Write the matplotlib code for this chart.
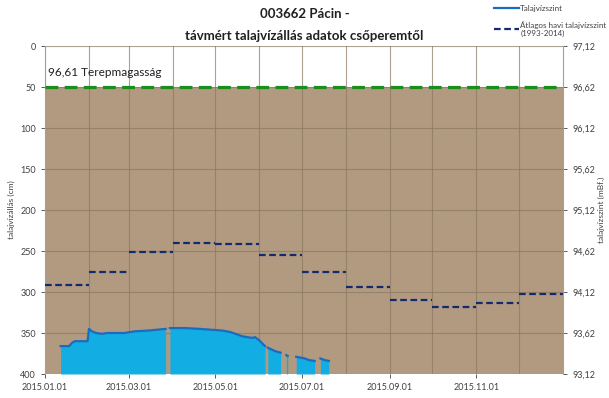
import matplotlib
matplotlib.use("Agg")
import matplotlib.pyplot as plt
import matplotlib.dates as mdates
from matplotlib.lines import Line2D
import numpy as np
import datetime as dt

plt.rcParams['font.family'] = ['Lato', 'DejaVu Sans']

# talajvizallas (cm) - meresi szakaszok, szakaszok kozott nincs adat
seg_dates = [
    ["01-12", "01-18", "01-20", "01-22", "01-31", "02-01", "02-03", "02-06", "02-10",
     "02-14", "02-20", "02-26", "03-05", "03-15", "03-27"],
    ["03-30", "04-10", "04-20", "04-28", "05-06", "05-12", "05-20", "05-27", "05-29",
     "06-01", "06-05"],
    ["06-07", "06-12", "06-16"],
    ["06-20", "06-21"],
    ["06-27", "07-03", "07-06", "07-10"],
    ["07-14", "07-17", "07-20"],
]
seg_vals = [
    [366, 366, 362, 360, 360, 345, 348, 350, 351, 350, 350, 350, 348, 347, 345],
    [344, 344, 345, 346, 347, 349, 354, 356, 355, 359, 366],
    [368, 372, 374],
    [377, 378],
    [379, 381, 383, 384],
    [381, 383, 384],
]

# atlagos havi talajvizszint (1993-2014), cm
honap_atlag = [291, 275, 251, 240, 241, 255, 276, 294, 310, 318, 313, 303]

x_cimkek = ["2015.01.01", "2015.03.01", "2015.05.01", "2015.07.01", "2015.09.01", "2015.11.01"]

terep = 50
terep_szoveg = "96,61 Terepmagasság"
ref_szint = 97.12

def d(s):
    return dt.datetime.strptime("2015-" + s, "%Y-%m-%d")

fig = plt.figure(figsize=(6.09, 3.98), dpi=100)
ax = fig.add_axes([0.0739, 0.0603, 0.8506, 0.8241])

x0 = dt.datetime(2015, 1, 1)
x1 = dt.datetime(2016, 1, 1)
ax.set_xlim(x0, x1)
ax.set_ylim(400, 0)

# barna talaj hatter
ax.axhspan(terep, 400, color='#b19a80', zorder=0, lw=0)

# grid
ax.set_xticks([dt.datetime.strptime(c, "%Y.%m.%d") for c in x_cimkek])
ax.set_xticklabels(x_cimkek)
ax.set_xticks([dt.datetime(2015, m, 1) for m in range(2, 13, 2)], minor=True)
ax.set_yticks(np.arange(0, 401, 50))
ax.grid(True, which='both', axis='x', color='#8b7862', lw=0.8, alpha=0.7, zorder=1)
ax.grid(True, which='major', axis='y', color='#8b7862', lw=0.8, alpha=0.7, zorder=1)

# talajvizallas
for ds, vs in zip(seg_dates, seg_vals):
    xs = [d(s) for s in ds]
    ax.fill_between(xs, vs, 400, color='#12ade2', lw=0, zorder=2)
    ax.plot(xs, vs, color='#1a6cc0', lw=1.6, zorder=3)

# havi atlag
for m, v in enumerate(honap_atlag):
    a = dt.datetime(2015, m + 1, 1)
    b = dt.datetime(2015, m + 2, 1) if m < 11 else x1
    ax.plot([a, b], [v, v], color='#112b6e', lw=1.6, ls=(0, (3, 1.6)), zorder=4)

# terepmagassag
ax.plot([x0, x1], [terep, terep], color='#1c8c1c', lw=2.3, ls=(0, (4, 2)), zorder=5)
ax.text(dt.datetime(2015, 1, 3), 36, terep_szoveg, fontsize=8.5, color='#202020', zorder=6)

for s in ['top', 'right', 'bottom']:
    ax.spines[s].set_visible(False)
ax.spines['left'].set_color('#a0a0a0')
ax.axhline(400, color='#c0c0c0', lw=0.8, zorder=6)
ax.tick_params(axis='both', which='both', labelsize=6.5, colors='#404040', length=3, width=0.6)
ax.tick_params(axis='x', which='minor', length=0)
ax.set_ylabel("talajvízállás (cm)", fontsize=6, color='#404040', labelpad=4)

ax2 = ax.twinx()
ax2.set_ylim(ref_szint - 4.0, ref_szint)
ax2.set_yticks([ref_szint - 0.5 * k for k in range(9)])
ax2.set_yticklabels([("%.2f" % (ref_szint - 0.5 * k)).replace(".", ",") for k in range(9)])
for s in ['top', 'left', 'bottom']:
    ax2.spines[s].set_visible(False)
ax2.spines['right'].set_color('#a0a0a0')
ax2.tick_params(axis='y', labelsize=6.5, colors='#404040', length=3, width=0.6)
ax2.set_ylabel("talajvízszint (mBf.)", fontsize=6, color='#404040', rotation=90, labelpad=2)

fig.text(0.5, 0.964, "003662 Pácin -", ha='center', va='center', fontsize=9.5, fontweight='bold', color='#202020')
fig.text(0.5, 0.909, "távmért talajvízállás adatok csőperemtől", ha='center', va='center',
         fontsize=9.5, fontweight='bold', color='#202020')

handles = [Line2D([], [], color='#1a6cc0', lw=1.6),
           Line2D([], [], color='#112b6e', lw=1.6, ls=(0, (3, 1.6)))]
fig.legend(handles, ["Talajvízszint", "Átlagos havi talajvízszint\n(1993-2014)"],
           loc='upper left', bbox_to_anchor=(0.8, 1.005), frameon=False, fontsize=5.8,
           handlelength=3.0, handletextpad=0.2, labelspacing=1.1, labelcolor='#404040')

fig.savefig("out.png", dpi=100)
